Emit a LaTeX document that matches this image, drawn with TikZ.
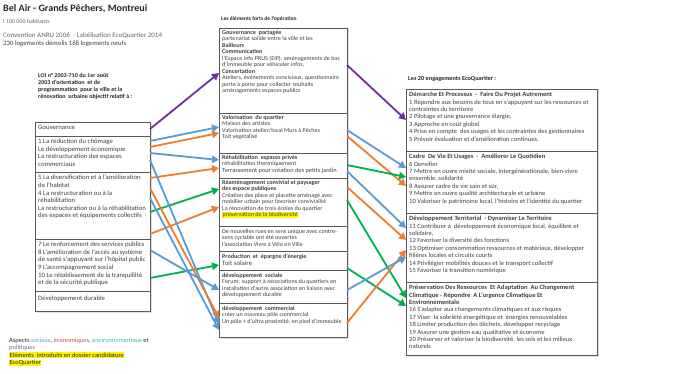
\documentclass[tikz,border=0pt]{standalone}
\usepackage{fontspec}
\setmainfont{Carlito}[FakeStretch=1.03]
\usetikzlibrary{arrows.meta}
\definecolor{cblue}{HTML}{5B9BD5}
\definecolor{corange}{HTML}{ED7D31}
\definecolor{cgreen}{HTML}{00B050}
\definecolor{cpurple}{HTML}{7030A0}
\definecolor{csoc}{HTML}{4BACC6}
\definecolor{ceco}{HTML}{C0504D}
\definecolor{cenv}{HTML}{3CC0A0}
\definecolor{cpol}{HTML}{8064A2}
\definecolor{ctxt}{HTML}{404040}
\newcommand{\hlite}[1]{{\setlength{\fboxsep}{0.4pt}\colorbox{yellow}{#1}}}
\tikzset{
  box/.style={draw=black!65, line width=0.5pt, anchor=north west, inner sep=0pt, outer sep=0pt},
  shadowbox/.style={fill=black!12, draw=none, anchor=north west, inner sep=0pt, outer sep=0pt},
  ltxt/.style={anchor=north west, inner sep=0pt, align=left, text=ctxt, font=\fontsize{6.6}{7.6}\selectfont},
  mtxt/.style={anchor=north west, inner sep=0pt, align=left, text=ctxt, font=\fontsize{5.95}{6.5}\selectfont},
  rtxt/.style={anchor=north west, inner sep=0pt, align=left, text=ctxt, font=\fontsize{6.4}{7.4}\selectfont},
  htxt/.style={anchor=north west, inner sep=0pt, align=left, text=black!85},
  arr/.style={-{Triangle[length=7pt,width=7.5pt]}, line width=1.8pt},
}
\begin{document}
\begin{tikzpicture}[x=1pt,y=-1pt]
\useasboundingbox[fill=white] (0,0) rectangle (679,374);

% header
\node[htxt, font=\fontsize{9.8}{11}\selectfont\bfseries] (title) at (3,4) {Bel Air - Grands Pêchers, Montreui};
\node[htxt, font=\fontsize{5.8}{7}\selectfont, text=black!60] (hab) at (3,19) {I 100 000 habitants};
\node[htxt, font=\fontsize{6.8}{8}\selectfont, text=black!60] (conv) at (3,33) {Convention ANRU 2006 \ - Labélisation EcoQuartier 2014};
\node[htxt, font=\fontsize{6.6}{8}\selectfont, text=black!75] (logt) at (3,41) {230 logements démolis 168 logements neufs};

\node[htxt, font=\fontsize{5.9}{7}\selectfont\bfseries] (loi) at (38,73) {LOI n° 2003-710 du 1er août\\2003 d'orientation \ et de\\programmation \ pour la ville et la\\rénovation \ urbaine objectif relatif à :};

% shadows
\node[shadowbox, minimum width=115pt, minimum height=189pt] (Lsh) at (36.5,123.5) {};
\node[shadowbox, minimum width=128pt, minimum height=309pt] (Msh) at (220.5,29.5) {};
\node[shadowbox, minimum width=191pt, minimum height=266pt] (Rsh) at (407.5,90.5) {};

% left box
\node[box, fill=white, minimum width=115pt, minimum height=14pt] (L1) at (35,122) {};
\node[box, fill=white, minimum width=115pt, minimum height=36pt] (L2) at (35,136) {};
\node[box, fill=white, minimum width=115pt, minimum height=67pt] (L3) at (35,172) {};
\node[box, fill=white, minimum width=115pt, minimum height=52pt] (L4) at (35,239) {};
\node[box, fill=white, minimum width=115pt, minimum height=20pt] (L5) at (35,291) {};
\begin{scope}
\clip (35,122) rectangle (149.5,311);
\node[ltxt] (L1t) at (38,125) {Gouvernance};
\node[ltxt] (L2t) at (38,139) {1 La réduction du chômage\\Le développement économique\\La restructuration des espaces\\commerciaux};
\node[ltxt] (L3t) at (38,175) {5 La diversification et à l'amélioration\\de l'habitat\\4 La restructuration ou à la\\réhabilitation\\La restructuration ou à la réhabilitation\\des espaces et équipements collectifs};
\node[ltxt] (L4t) at (38,242) {7 Le renforcement des services publics\\8 L'amélioration de l'accès au système\\de santé s'appuyant sur l'hôpital public\\9 L'accompagnement social\\10 Le rétablissement de la tranquillité\\et de la sécurité publique};
\node[ltxt] (L5t) at (38,296) {Développement durable};
\end{scope}

% middle column
\node[htxt, font=\fontsize{5.4}{6.5}\selectfont\bfseries] (mtitle) at (221,16) {Les éléments forts de l'opération};
\node[box, fill=white, minimum width=128pt, minimum height=85pt] (M1) at (219,28) {};
\node[box, fill=white, minimum width=128pt, minimum height=40pt] (M2) at (219,113) {};
\node[box, fill=white, minimum width=128pt, minimum height=25pt] (M3) at (219,153) {};
\node[box, fill=white, minimum width=128pt, minimum height=48pt] (M4) at (219,178) {};
\node[box, fill=white, minimum width=128pt, minimum height=25pt] (M5) at (219,226) {};
\node[box, fill=white, minimum width=128pt, minimum height=19pt] (M6) at (219,251) {};
\node[box, fill=white, minimum width=128pt, minimum height=33pt] (M7) at (219,270) {};
\node[box, fill=white, minimum width=128pt, minimum height=34pt] (M8) at (219,303) {};
\node[mtxt] (M1t) at (222,30) {\textbf{Gouvernance \ partagée}\\partenariat solide entre la ville et les\\\textbf{Bailleurs}\\\textbf{Communication}\\l'Espace Info PRUS (EIP), aménagements de bas\\d'immeuble pour véhiculer infos,\\\textbf{Concertation}\\Ateliers, événements conviviaux, questionnaire\\porte à porte pour collecter souhaits\\aménagements espaces publics};
\node[mtxt] (M2t) at (222,115) {\textbf{Valorisation \ du quartier}\\Maison des artistes\\Valorisation atelier/local Murs à Pêches\\Toit végétalisé};
\node[mtxt] (M3t) at (222,155) {\textbf{Réhabilitation \ espaces privés}\\réhabilitation thermiquement\\{\fontsize{6.2}{6.5}\selectfont Terrassement pour création des petits jardin}};
\node[mtxt] (M4t) at (222,180) {\textbf{Réaménagement convivial et paysager}\\\textbf{des espace publiques}\\Création des place et placette aménagé avec\\mobilier urbain pour favoriser convivialité\\La rénovation de trois écoles du quartier\\\hlite{préservation de la biodiversité}};
\node[mtxt] (M5t) at (222,229) {De nouvelles rues en sens unique avec contre-\\sens cyclable ont été ouvertes\\l'association Vivre à Vélo en Ville};
\node[mtxt] (M6t) at (222,254) {\textbf{Production \ et \ épargne d'énergie}\\{\fontsize{6.6}{7}\selectfont Toit solaire}};
\node[mtxt] (M7t) at (222,273) {\textbf{développement \ sociale}\\Forum: support à associations du quartiers en\\installation d'autre association en liaison avec\\développement durable};
\node[mtxt] (M8t) at (222,306) {\textbf{développement \ commercial}\\créer un nouveau pôle commercial\\Un pôle + d'ultra proximité, en pied d'immeuble};

% right column
\node[htxt, font=\fontsize{6.1}{7}\selectfont\bfseries] (rtitle) at (408,76) {Les 20 engagements EcoQuartier :};
\node[box, fill=white, minimum width=191pt, minimum height=62pt] (R1) at (406,89) {};
\node[box, fill=white, minimum width=191pt, minimum height=62pt] (R2) at (406,151) {};
\node[box, fill=white, minimum width=191pt, minimum height=69pt] (R3) at (406,213) {};
\node[box, fill=white, minimum width=191pt, minimum height=73pt] (R4) at (406,282) {};
\node[rtxt] (R1t) at (409,92) {\textbf{Démarche Et Processus \ - \ Faire Du Projet Autrement}\\1 Répondre aux besoins de tous en s'appuyant sur les ressources et\\contraintes du territoire\\2 Pilotage et une gouvernance élargie,\\3 Approche en coût global\\4 Prise en compte \ des usages et les contraintes des gestionnaires\\5 Prévoir évaluation et d'amélioration continues.};
\node[rtxt] (R2t) at (409,154) {\textbf{Cadre \ De Vie Et Usages \ - \ Améliorer Le Quotidien}\\6 Densifier\\7 Mettre en ouvre mixité sociale, intergénérationale, bien-vivre\\ensemble, solidarité\\8 Assurer cadre de vie sain et sûr,\\9 Mettre en ouvre qualité architecturale et urbaine\\10 Valoriser le patrimoine local, l'histoire et l'identité du quartier};
\node[rtxt] (R3t) at (409,216) {\textbf{Développement Territorial \ - Dynamiser Le Territoire}\\11 Contribuer à \ développement économique local, équilibré et\\solidaire,\\12 Favoriser la diversité des fonctions\\13 Optimiser consommation ressources et matériaux, développer\\filières locales et circuits courts\\14 Privilégier mobilités douces et le transport collectif\\15 Favoriser la transition numérique};
\node[rtxt] (R4t) at (409,285) {\textbf{Préservation Des Ressources \ Et Adaptation \ Au Changement}\\\textbf{Climatique - Répondre \ A L'urgence Climatique Et}\\\textbf{Environnementale}\\16 S'adapter aux changements climatiques et aux risques\\17 Viser \ la sobriété énergétique et \ énergies renouvelables\\18 Limiter production des déchets, développer recyclage\\19 Assurer une gestion eau qualitative et économe\\20 Préserver et valoriser la biodiversité, les sols et les milieux\\naturels};

% legend
\node[htxt, font=\fontsize{6.3}{7.3}\selectfont] (leg) at (9,338) {Aspects \textcolor{csoc}{sociaux}, \textcolor{ceco}{économiques}, \textcolor{cenv}{environnementaux} et\\\textcolor{cpol}{politiques}\\\hlite{Eléments \ introduits en dossier candidature}\\\hlite{EcoQuartier}};

% arrows left -> middle
\draw[arr,cpurple] (L1.east |- 0,129) -- (M1.west |- 0,73);
\draw[arr,cblue] (L2.east |- 0,141) -- (M2.west |- 0,127);
\draw[arr,corange] (L2.east |- 0,147) -- (M2.west |- 0,133);
\draw[arr,cblue] (L2.east |- 0,153) -- (M3.west |- 0,160);
\draw[arr,corange] (L3.east |- 0,178) -- (M3.west |- 0,168);
\draw[arr,cgreen] (L3.east |- 0,212) -- (M4.west |- 0,189);
\draw[arr,corange] (L3.east |- 0,234) -- (M4.west |- 0,207);
\draw[arr,cgreen] (L4.east |- 0,278) -- (M6.west |- 0,265);
\draw[arr,cblue] (L2.east |- 0,160) -- (M8.west |- 0,324);
\draw[arr,corange] (L3.east |- 0,188) -- (M8.west |- 0,318);
\draw[arr,cblue] (L3.east |- 0,198) -- (M8.west |- 0,330);
\draw[arr,cblue] (L4.east |- 0,250) -- (M7.west |- 0,290);

% arrows middle -> right
\draw[arr,cpurple] (M1.east |- 0,65) -- (R1.west |- 0,120);
\draw[arr,cblue] (M2.east |- 0,130) -- (R2.west |- 0,168);
\draw[arr,corange] (M2.east |- 0,136) -- (R2.west |- 0,186);
\draw[arr,cgreen] (M3.east |- 0,165) -- (R2.west |- 0,177);
\draw[arr,cblue] (M3.east |- 0,171) -- (R3.west |- 0,228);
\draw[arr,corange] (M4.east |- 0,187) -- (R3.west |- 0,240);
\draw[arr,cgreen] (M4.east |- 0,200) -- (R4.west |- 0,298);
\draw[arr,cgreen] (M6.east |- 0,268) -- (R4.west |- 0,306);
\draw[arr,corange] (M8.east |- 0,323) -- (R3.west |- 0,250);
\draw[arr,cblue] (M7.east |- 0,290) -- (R3.west |- 0,257);
\end{tikzpicture}
\end{document}
